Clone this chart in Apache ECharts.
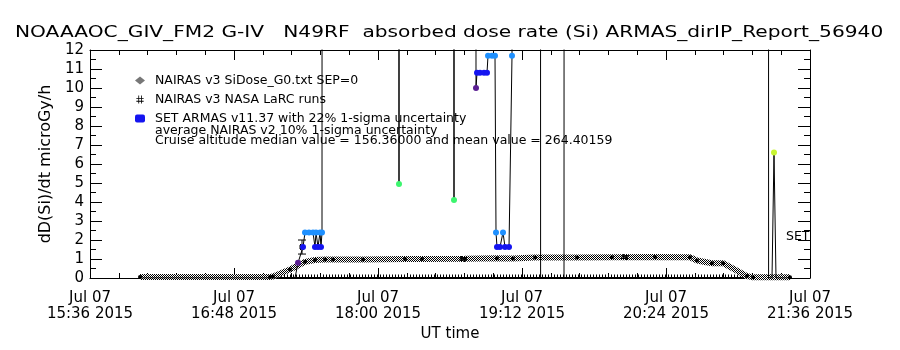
<!DOCTYPE html>
<html>
<head>
<meta charset="utf-8">
<script src="https://cdn.jsdelivr.net/npm/echarts@6/dist/echarts.min.js"></script>
<style>
  html, body { margin: 0; background: #fff; }
  #chart { width: 900px; height: 350px; }
</style>
</head>
<body>
<div id="chart"></div>
<script>
// time axis: minutes after Jul 07 2015 15:36 UT
const xTickLabels = ['Jul 07\n15:36 2015', 'Jul 07\n16:48 2015', 'Jul 07\n18:00 2015',
                     'Jul 07\n19:12 2015', 'Jul 07\n20:24 2015', 'Jul 07\n21:36 2015'];

// NAIRAS v3 SiDose_G0 (hatched band)
const g0T = [25, 90, 91.5, 100, 107.5, 112.5, 117.5, 121.5, 136.5, 157.5, 166, 187.5, 203.5, 211.5,
             222.5, 243.5, 261, 282.5, 300, 303.5, 311, 316.5, 328.5, 331.5, 350];
const g0V = [0.05, 0.05, 0.08, 0.45, 0.85, 0.95, 0.97, 0.97, 0.97, 1.0, 1.0, 1.01, 1.04, 1.03,
             1.08, 1.08, 1.09, 1.1, 1.09, 0.92, 0.78, 0.78, 0.1, 0.04, 0.04];

// NAIRAS v3 NASA LaRC runs, with error bars
const larcT = [106, 186.5, 267.5];
const larcV = [1.63, 1.0, 1.1];
const larcLo = [1.26, 0.95, 1.03];
const larcHi = [2.0, 1.07, 1.17];

// SET ARMAS v11.37 (most cruise values are far above the 12 top of the plot)
const armasT = [25, 102.5, 104, 106.5, 107.5, 109.5, 111.5, 112.5, 113, 114, 115, 115.5, 116, 116.3,
                135, 154.2, 154.5, 154.8, 170, 181.8, 182, 182.2, 192.5, 193, 193.5, 195, 197, 198.5,
                199, 201, 202.5, 203, 203.5, 205, 206.5, 207.5, 209.5, 211, 211.5, 225, 225.3, 237,
                237.3, 290, 339, 339.3, 341, 342, 343, 350];
const armasV = [0, 0, 0.8, 1.63, 2.4, 2.4, 2.4, 1.63, 2.4, 1.63, 2.4, 1.63, 2.4, 150,
                160, 150, 4.95, 150, 155, 150, 4.1, 150, 150, 10.0, 10.8, 10.8, 10.8, 10.8,
                11.7, 11.7, 11.7, 2.4, 1.63, 1.63, 2.4, 1.63, 1.63, 11.7, 150, 150, 0, 0,
                150, 160, 150, 0, 0, 6.6, 0, 0];

// zero-level SET trace along the bottom
const baseT = [25, 350];
const baseV = [0, 0];

const G0_NAME = 'NAIRAS v3 SiDose_G0.txt SEP=0';
const LARC_NAME = 'NAIRAS v3 NASA LaRC runs';
const ARMAS_NAME = 'SET ARMAS v11.37 with 22% 1-sigma uncertainty';
const TITLE = 'NOAAAOC_GIV_FM2 G-IV   N49RF  absorbed dose rate (Si) ARMAS_dirIP_Report_56940';

const FONT = 'DejaVu Sans';

function hatch() {
  const c = document.createElement('canvas');
  c.width = 2; c.height = 2;
  const g = c.getContext('2d');
  g.fillStyle = '#fff'; g.fillRect(0, 0, 2, 2);
  g.fillStyle = '#000'; g.fillRect(0, 0, 1, 1); g.fillRect(1, 1, 1, 1);
  return { image: c, repeat: 'repeat' };
}

// IDL-like colour table, cycles with value
function armasColor(v) {
  const m = v % 9.2;
  if (m < 1.2) return '#5b1f93';
  if (m < 2.0) return '#1414f0';
  if (m < 3.5) return '#1e90ff';
  if (m < 5.5) return '#3cf56e';
  return '#c8f532';
}

const hashIcon = 'path://M3,0h1.2v12h-1.2z M7,0h1.2v12h-1.2z M0,4h11v1.2h-11z M0,8h11v1.2h-11z';

const black = { color: '#000', width: 1 };
function xAxisDef(pos, labels) {
  return {
    type: 'value', position: pos, min: 0, max: 360, interval: 72,
    axisLine: { show: true, onZero: false, lineStyle: black },
    axisTick: { inside: true, length: 10, lineStyle: black },
    minorTick: { show: true, splitNumber: 5, length: 5, lineStyle: black },
    splitLine: { show: false },
    axisLabel: labels ? {
      color: '#000', fontFamily: FONT, fontSize: 15, lineHeight: 16, margin: 12,
      formatter: v => xTickLabels[Math.round(v / 72)]
    } : { show: false },
    name: labels ? 'UT time' : '', nameLocation: 'middle', nameGap: 49,
    nameTextStyle: { color: '#000', fontFamily: FONT, fontSize: 15 }
  };
}
function yAxisDef(pos, labels) {
  return {
    type: 'value', position: pos, min: 0, max: 12, interval: 1,
    axisLine: { show: true, onZero: false, lineStyle: black },
    axisTick: { inside: true, length: 12, lineStyle: black },
    minorTick: { show: true, splitNumber: 2, length: 6, lineStyle: black },
    splitLine: { show: false },
    axisLabel: labels ? { color: '#000', fontFamily: FONT, fontSize: 15, margin: 6 } : { show: false },
    name: labels ? 'dD(Si)/dt microGy/h' : '', nameLocation: 'middle', nameGap: 36, nameRotate: 90,
    nameTextStyle: { color: '#000', fontFamily: FONT, fontSize: 16 }
  };
}

const chart = echarts.init(document.getElementById('chart'), null, { renderer: 'canvas' });
chart.setOption({
  animation: false,
  backgroundColor: '#fff',
  grid: { left: 90, right: 90, top: 50, bottom: 72 },
  xAxis: [xAxisDef('bottom', true), xAxisDef('top', false)],
  yAxis: [yAxisDef('left', true), yAxisDef('right', false)],
  legend: {
    orient: 'vertical', left: 135, top: 71, itemGap: 0, itemWidth: 10, itemHeight: 8,
    padding: 0, selectedMode: false,
    textStyle: { color: '#000', fontFamily: FONT, fontSize: 12.5, lineHeight: 19, padding: [0, 0, 0, 5] },
    data: [
      { name: G0_NAME, icon: 'diamond', itemStyle: { color: '#777' } },
      { name: LARC_NAME, icon: hashIcon, itemStyle: { color: '#000' } },
      { name: ARMAS_NAME, icon: 'roundRect', itemStyle: { color: '#1414f0' } }
    ]
  },
  graphic: [
    // wide vector-font look: stretch the title horizontally
    { type: 'text', x: 15, y: 33, scaleX: 1.26, style: { text: TITLE,
      font: '16px "DejaVu Sans"', fill: '#000', verticalAlign: 'middle' } },
    { type: 'text', x: 155, y: 131, style: { text: 'average NAIRAS v2 10% 1-sigma uncertainty',
      font: '12.5px "DejaVu Sans"', fill: '#000', verticalAlign: 'middle' } },
    { type: 'text', x: 155, y: 141, style: { text: 'Cruise altitude median value = 156.36000 and mean value = 264.40159',
      font: '12.5px "DejaVu Sans"', fill: '#000', verticalAlign: 'middle' } },
    { type: 'text', x: 786, y: 237, style: { text: 'SET', font: '12.5px "DejaVu Sans"', fill: '#000',
      verticalAlign: 'middle' } }
  ],
  series: [
    {
      type: 'line', name: 'SET zero level', data: baseT.map((t, i) => [t, baseV[i]]),
      symbol: 'none', lineStyle: { color: '#000', width: 2 }, z: 2, silent: true
    },
    {
      type: 'line', name: 'SET zero comb', data: baseT.map((t, i) => [t, baseV[i] + 0.08]),
      symbol: 'none', lineStyle: { color: '#000', width: 4, type: [1, 2] }, z: 2, silent: true
    },
    {
      type: 'line', name: G0_NAME, data: g0T.map((t, i) => [t, g0V[i]]),
      lineStyle: { color: hatch(), width: 6 },
      symbol: 'circle', symbolSize: 4, showAllSymbol: true,
      itemStyle: { color: '#000' }, z: 3
    },
    {
      type: 'custom', name: LARC_NAME, z: 4,
      data: larcT.map((t, i) => [t, larcV[i], larcLo[i], larcHi[i]]),
      renderItem: (params, api) => {
        const c = api.coord([api.value(0), api.value(1)]);
        const lo = api.coord([api.value(0), api.value(2)]);
        const hi = api.coord([api.value(0), api.value(3)]);
        const st = { stroke: '#000', lineWidth: 1 };
        const ln = (x1, y1, x2, y2) => ({ type: 'line', shape: { x1, y1, x2, y2 }, style: st });
        return {
          type: 'group', children: [
            ln(lo[0], lo[1], hi[0], hi[1]),
            ln(lo[0] - 4, lo[1], lo[0] + 4, lo[1]),
            ln(hi[0] - 4, hi[1], hi[0] + 4, hi[1]),
            ln(c[0] - 1.5, c[1] - 3, c[0] - 1.5, c[1] + 3),
            ln(c[0] + 1.5, c[1] - 3, c[0] + 1.5, c[1] + 3),
            ln(c[0] - 3, c[1] - 1, c[0] + 3, c[1] - 1),
            ln(c[0] - 3, c[1] + 1, c[0] + 3, c[1] + 1)
          ]
        };
      }
    },
    {
      type: 'line', name: ARMAS_NAME, data: armasT.map((t, i) => [t, armasV[i]]),
      lineStyle: { color: '#000', width: 1 },
      symbol: 'circle', showAllSymbol: true,
      symbolSize: v => (v[1] > 0 ? 6 : 0),
      itemStyle: { color: p => armasColor(p.value[1]) }, z: 5
    }
  ]
});
window.addEventListener('resize', () => { try { chart.resize(); } catch (e) {} }, { passive: true });
</script>
</body>
</html>
